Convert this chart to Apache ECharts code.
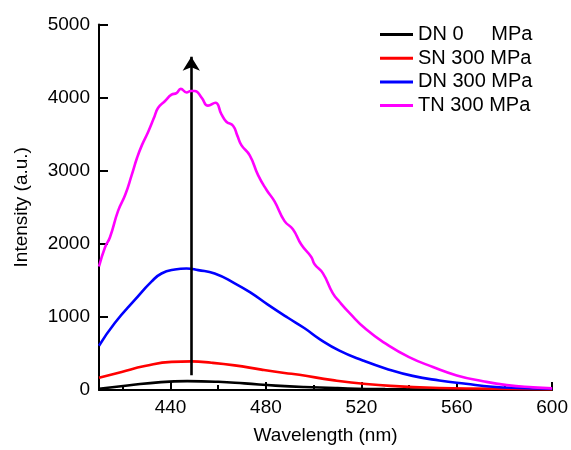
<!DOCTYPE html>
<html>
<head>
<meta charset="utf-8">
<script src="https://cdn.jsdelivr.net/npm/echarts@6/dist/echarts.min.js"></script>
<style>html,body{margin:0;padding:0;background:#fff}#c{width:571px;height:450px}</style>
</head>
<body>
<div id="c"></div>
<script>
// ---- data ----
const seriesNames = ['DN 0     MPa', 'SN 300 MPa', 'DN 300 MPa', 'TN 300 MPa'];
const seriesColors = ['#000000', '#ff0000', '#0000ff', '#ff00ff'];

const dn0X = [410, 422, 436, 447, 460, 471, 484, 496, 510, 530, 560, 600];
const dn0Y = [18, 62, 108, 121, 112, 90, 60, 40, 25, 12, 6, 4];

const sn300X = [410, 419.5, 429.2, 440.4, 448.8, 457.2, 466.9, 478.1, 487.8, 494, 508, 522, 536, 550, 564, 600];
const sn300Y = [166, 247, 327, 385, 391, 373, 337, 279, 233, 208, 135, 81, 50, 31, 20, 12];

const dn300X = [410, 416.7, 425.1, 432, 436.2, 441.8, 446.7, 451.6, 458.5, 466.9, 473.9, 480.8, 489.2, 496.2, 502.5, 510.8, 520.6, 530.4, 541.5, 552.7, 563.8, 575, 586, 600];
const dn300Y = [606, 920, 1236, 1482, 1594, 1648, 1662, 1640, 1594, 1460, 1325, 1168, 988, 845, 697, 539, 404, 292, 193, 130, 85, 45, 27, 18];

const tn300X = [410, 412.5, 414.6, 418, 421, 423.7, 426, 428, 430.6, 433, 434.8, 437.6, 440.4, 442.5, 444.3, 446.7, 448.5, 450.2, 453, 455.7, 458.8, 461.3, 463.4, 466.2, 468, 469.7, 473.2, 476.7, 480.2, 483.6, 487.8, 491.3, 494.8, 499, 500.4, 503.9, 508, 511, 515, 522, 530.4, 540, 550, 560, 571, 581, 592, 600];
const tn300Y = [1690, 1950, 2090, 2450, 2670, 2940, 3180, 3350, 3530, 3720, 3860, 3950, 4040, 4060, 4120, 4070, 4090, 4090, 4000, 3890, 3930, 3775, 3670, 3615, 3480, 3350, 3210, 2940, 2740, 2580, 2310, 2200, 1990, 1820, 1720, 1595, 1325, 1200, 1055, 830, 630, 450, 315, 200, 120, 67, 36, 22];

const xMajorTicks = [440, 480, 520, 560, 600];
const xMinorTicks = [420, 460, 500, 540, 580];
const arrowStart = [448.7, 203];
const arrowEnd = [448.7, 4560];

// ---- chart ----
const zip = (xs, ys) => xs.map((x, i) => [x, ys[i]]);
const allX = [dn0X, sn300X, dn300X, tn300X];
const allY = [dn0Y, sn300Y, dn300Y, tn300Y];
const font = "'Liberation Sans', Arial, sans-serif";

const series = seriesNames.map((n, i) => ({
  name: n,
  type: 'line',
  xAxisIndex: 0,
  data: zip(allX[i], allY[i]),
  smooth: 0.5,
  showSymbol: false,
  symbol: 'none',
  lineStyle: { color: seriesColors[i], width: 2.6 },
  itemStyle: { color: seriesColors[i] },
  z: 2 + i
}));
series.push({
  type: 'line',
  data: [],
  z: 10,
  markLine: {
    silent: true,
    animation: false,
    label: { show: false },
    lineStyle: { color: '#000', width: 2.6, type: 'solid' },
    symbolSize: [13, 14],
    data: [[
      { coord: arrowStart, symbol: 'none' },
      { coord: arrowEnd, symbol: 'arrow' }
    ]]
  }
});

const chart = echarts.init(document.getElementById('c'), null, { renderer: 'canvas' });
chart.setOption({
  animation: false,
  backgroundColor: '#fff',
  grid: { left: 99, right: 17.7, top: 24.5, bottom: 55, containLabel: false },
  legend: {
    left: 380,
    top: 24.5,
    padding: 0,
    orient: 'vertical',
    icon: 'rect',
    itemWidth: 33,
    itemHeight: 3,
    itemGap: 3.7,
    textStyle: { fontFamily: font, fontSize: 20, color: '#000', lineHeight: 20 },
    data: seriesNames.map((n, i) => ({ name: n, itemStyle: { color: seriesColors[i] } }))
  },
  xAxis: [{
    type: 'value',
    min: 410,
    max: 600,
    name: 'Wavelength (nm)',
    nameLocation: 'middle',
    nameGap: 36,
    nameTextStyle: { fontFamily: font, fontSize: 19, color: '#000' },
    axisLine: { show: true, lineStyle: { color: '#000', width: 2 } },
    axisTick: { show: true, inside: true, length: 8, customValues: xMajorTicks, lineStyle: { color: '#000', width: 2 } },
    axisLabel: { show: true, customValues: xMajorTicks, margin: 8, fontFamily: font, fontSize: 19, color: '#000', formatter: v => String(v) },
    splitLine: { show: false }
  }, {
    type: 'value',
    min: 410,
    max: 600,
    position: 'bottom',
    axisLine: { show: false },
    axisTick: { show: true, inside: true, length: 5, customValues: xMinorTicks, lineStyle: { color: '#000', width: 2 } },
    axisLabel: { show: false },
    splitLine: { show: false }
  }],
  yAxis: {
    type: 'value',
    min: 0,
    max: 5000,
    interval: 1000,
    name: 'Intensity (a.u.)',
    nameLocation: 'middle',
    nameGap: 68,
    nameTextStyle: { fontFamily: font, fontSize: 19, color: '#000' },
    axisLine: { show: true, lineStyle: { color: '#000', width: 2 } },
    axisTick: { show: true, inside: true, length: 9, lineStyle: { color: '#000', width: 2 } },
    axisLabel: { margin: 9, fontFamily: font, fontSize: 19, color: '#000', formatter: v => String(v) },
    splitLine: { show: false }
  },
  series: series
});
</script>
</body>
</html>
